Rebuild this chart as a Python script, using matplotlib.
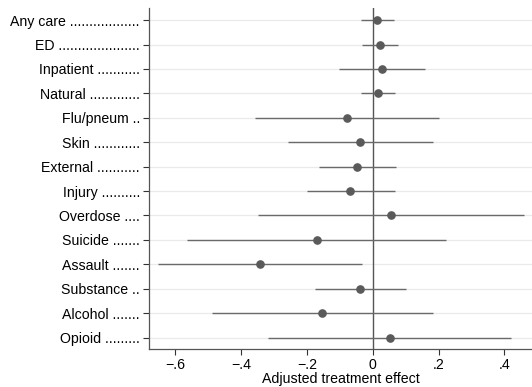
import matplotlib
matplotlib.use("Agg")
import matplotlib.pyplot as plt

plt.rcParams['font.family'] = ['Liberation Sans', 'DejaVu Sans']

labels = ['Any care ..................', 'ED .....................', 'Inpatient ...........',
          'Natural .............', 'Flu/pneum ..', 'Skin ............',
          'External ...........', 'Injury ..........', 'Overdose ....',
          'Suicide .......', 'Assault .......', 'Substance ..',
          'Alcohol .......', 'Opioid .........']
effect = [0.013, 0.022, 0.029, 0.015, -0.079, -0.038, -0.048, -0.068,
          0.055, -0.170, -0.343, -0.039, -0.153, 0.052]
ci_low = [-0.036, -0.033, -0.101, -0.036, -0.358, -0.257, -0.164, -0.200,
          -0.350, -0.564, -0.652, -0.175, -0.488, -0.317]
ci_high = [0.065, 0.078, 0.159, 0.067, 0.200, 0.183, 0.070, 0.067,
           0.459, 0.223, -0.033, 0.100, 0.183, 0.420]
xticks = [-0.6, -0.4, -0.2, 0, 0.2, 0.4]
xticklabels = ['\u2212.6', '\u2212.4', '\u2212.2', '0', '.2', '.4']

fig = plt.figure(figsize=(5.32, 3.87), dpi=100)
ax = fig.add_axes([0.280, 0.0974, 0.720, 0.8816])

pos = list(range(1, len(labels) + 1))
for p in pos:
    ax.axhline(p, color='#eaeaea', lw=0.9, zorder=0)
ax.axvline(0, color='#555555', lw=1.0, zorder=1)
ax.hlines(pos, ci_low, ci_high, color='#6a6a6a', lw=1.0, zorder=2)
ax.plot(effect, pos, 'o', color='#5a5a5a', ms=5.2, zorder=3)

ax.set_xlim(-0.68, 0.484)
ax.set_ylim(14.48, 0.51)
ax.set_yticks(pos)
ax.set_yticklabels(labels)
ax.set_xticks(xticks)
ax.set_xticklabels(xticklabels)
ax.set_xlabel('Adjusted treatment effect', fontsize=10.2, labelpad=0)

ax.tick_params(axis='both', labelsize=10.2, length=4.5, width=0.8, color='#333333', pad=2)
for s in ['top', 'right']:
    ax.spines[s].set_visible(False)
for s in ['left', 'bottom']:
    ax.spines[s].set_color('#555555')
    ax.spines[s].set_linewidth(0.9)

fig.savefig('out.png', dpi=100)
